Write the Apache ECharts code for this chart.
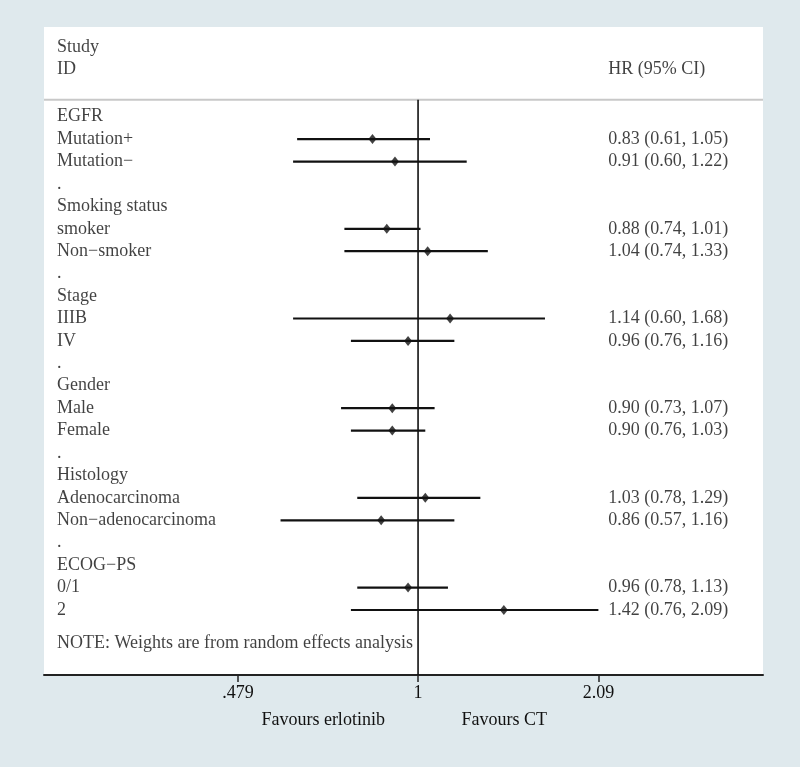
<!DOCTYPE html>
<html>
<head>
<meta charset="utf-8">
<script src="https://cdn.jsdelivr.net/npm/echarts@6/dist/echarts.min.js"></script>
<style>
  html, body { margin: 0; padding: 0; background: #dfe9ed; }
  #forest { width: 800px; height: 767px; }
</style>
</head>
<body>
<div id="forest"></div>
<script>
// rows of the forest plot, top to bottom
var rowLabels = ['EGFR', 'Mutation+', 'Mutation\u2212', '.', 'Smoking status', 'smoker', 'Non\u2212smoker', '.',
  'Stage', 'IIIB', 'IV', '.', 'Gender', 'Male', 'Female', '.',
  'Histology', 'Adenocarcinoma', 'Non\u2212adenocarcinoma', '.', 'ECOG\u2212PS', '0/1', '2'];
var hrVal  = [null, 0.83, 0.91, null, null, 0.88, 1.04, null, null, 1.14, 0.96, null, null, 0.90, 0.90, null, null, 1.03, 0.86, null, null, 0.96, 1.42];
var ciLow  = [null, 0.61, 0.60, null, null, 0.74, 0.74, null, null, 0.60, 0.76, null, null, 0.73, 0.76, null, null, 0.78, 0.57, null, null, 0.78, 0.76];
var ciHigh = [null, 1.05, 1.22, null, null, 1.01, 1.33, null, null, 1.68, 1.16, null, null, 1.07, 1.03, null, null, 1.29, 1.16, null, null, 1.13, 2.09];
var noteText = 'NOTE: Weights are from random effects analysis';
var tickValues = [0.479, 1, 2.09];
var tickLabels = ['.479', '1', '2.09'];
var favourLabels = ['Favours erlotinib', 'Favours CT'];

var FONT = 'Liberation Serif';
var XMIN = -1.529, XMAX = 1.41;   // ln(HR) range of the panel
var XTEXT = 0.777;               // column of the HR (95% CI) text

forest();

function forest() {
    var dom = document.getElementById('forest');
    var myChart = echarts.init(dom, null, { renderer: 'canvas' });

    var leftText = [[XMIN, -3.1, 'Study'], [XMIN, -2.1, 'ID']];
    var rightText = [[XTEXT, -2.1, 'HR (95% CI)']];
    var ciData = [];
    var pointData = [];
    for (var i = 0; i < rowLabels.length; i++) {
        leftText.push([XMIN, i, rowLabels[i]]);
        if (hrVal[i] != null) {
            ciData.push([Math.log(ciLow[i]), Math.log(ciHigh[i]), i]);
            pointData.push([Math.log(hrVal[i]), i]);
            rightText.push([XTEXT, i, hrVal[i].toFixed(2) + ' (' + ciLow[i].toFixed(2) + ', ' + ciHigh[i].toFixed(2) + ')']);
        }
    }
    leftText.push([XMIN, 23.5, noteText]);

    var textStyle = { fontFamily: FONT, fontSize: 18, color: '#111' };

    function fmtTick(v) {
        for (var k = 0; k < tickValues.length; k++) {
            if (Math.abs(Math.log(tickValues[k]) - v) < 1e-6) return tickLabels[k];
        }
        return '';
    }
    var favourPos = [-0.388, 0.352];

    var option = {
        animation: false,
        backgroundColor: '#dfe9ed',
        grid: { left: 44, right: 37, top: 27, bottom: 92, show: true, backgroundColor: '#ffffff', borderWidth: 0 },
        xAxis: [{
            type: 'value', min: XMIN, max: XMAX,
            splitLine: { show: false },
            axisLine: { show: true, onZero: false, lineStyle: { color: '#222', width: 2 } },
            axisTick: { show: true, length: 7, lineStyle: { color: '#222', width: 1.5 }, customValues: tickValues.map(Math.log) },
            axisLabel: { customValues: tickValues.map(Math.log), formatter: fmtTick, margin: 9,
                fontFamily: FONT, fontSize: 18, color: '#111' }
        }, {
            type: 'value', min: XMIN, max: XMAX, position: 'bottom', offset: 27,
            splitLine: { show: false }, axisLine: { show: false, onZero: false }, axisTick: { show: false },
            axisLabel: { customValues: favourPos, margin: 9, fontFamily: FONT, fontSize: 18, color: '#111',
                formatter: function (v) { return Math.abs(v - favourPos[0]) < 1e-6 ? favourLabels[0] : favourLabels[1]; } }
        }],
        yAxis: {
            type: 'value', inverse: true, min: -4, max: 24.9,
            show: false, splitLine: { show: false }
        },
        series: [
            {   // header separator
                type: 'line', symbol: 'none', silent: true,
                data: [[XMIN, -0.75], [XMAX, -0.75]],
                lineStyle: { color: '#c8c8c8', width: 2 }
            },
            {   // null line at HR = 1
                type: 'line', symbol: 'none', silent: true,
                data: [[0, -0.75], [0, 24.9]],
                lineStyle: { color: '#111', width: 1.6 }
            },
            {   // confidence intervals
                type: 'custom',
                data: ciData,
                renderItem: function (params, api) {
                    var a = api.coord([api.value(0), api.value(2)]);
                    var b = api.coord([api.value(1), api.value(2)]);
                    return { type: 'line', shape: { x1: a[0], y1: a[1], x2: b[0], y2: b[1] },
                        style: { stroke: '#111', lineWidth: 2.2 } };
                },
                encode: { x: [0, 1], y: 2 }
            },
            {   // point estimates
                type: 'scatter', symbol: 'diamond', symbolSize: [8, 10],
                itemStyle: { color: '#111' },
                data: pointData, z: 5
            },
            {   // study labels
                type: 'scatter', symbolSize: 0, clip: false, silent: true,
                data: leftText,
                label: { show: true, position: 'right', distance: 13, formatter: function (p) { return p.data[2]; },
                    fontFamily: textStyle.fontFamily, fontSize: textStyle.fontSize, color: textStyle.color }
            },
            {   // HR text column
                type: 'scatter', symbolSize: 0, clip: false, silent: true,
                data: rightText,
                label: { show: true, position: 'right', distance: 0, formatter: function (p) { return p.data[2]; },
                    fontFamily: textStyle.fontFamily, fontSize: textStyle.fontSize, color: textStyle.color }
            }
        ]
    };

    myChart.setOption(option);
    window.addEventListener('resize', myChart.resize);
}
</script>
</body>
</html>
